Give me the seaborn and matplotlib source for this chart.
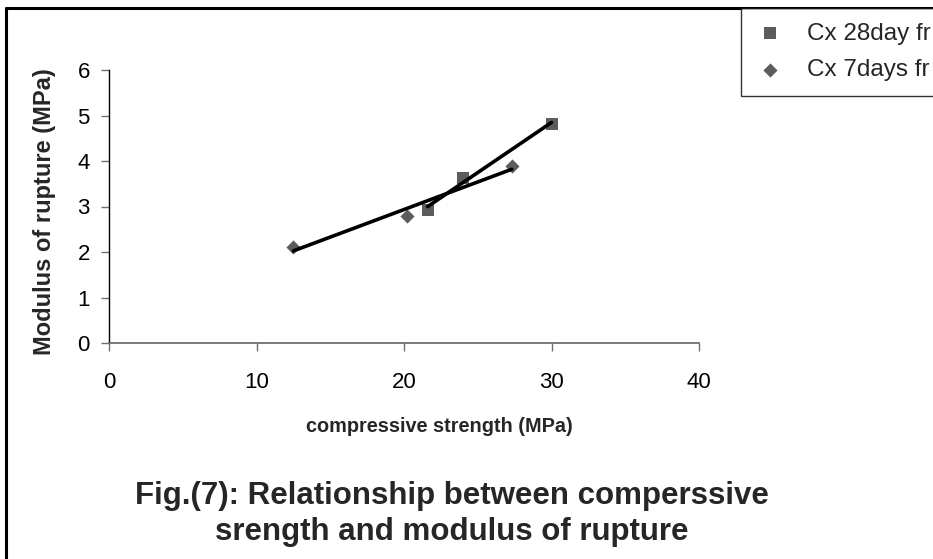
import matplotlib
matplotlib.use("Agg")
import matplotlib.pyplot as plt
from matplotlib.lines import Line2D
import seaborn as sns
import pandas as pd

# Data
cs_28day = [21.6, 24.0, 30.0]
mr_28day = [2.93, 3.62, 4.82]
cs_7days = [12.5, 20.2, 27.3]
mr_7days = [2.10, 2.80, 3.90]
label_28day = "Cx 28day fr"
label_7days = "Cx 7days fr"
x_ticks = [0, 10, 20, 30, 40]
y_ticks = [0, 1, 2, 3, 4, 5, 6]

df28 = pd.DataFrame({"cs": cs_28day, "mr": mr_28day})
df7 = pd.DataFrame({"cs": cs_7days, "mr": mr_7days})

sns.set_style("ticks")
plt.rcParams["font.family"] = ["Liberation Sans", "DejaVu Sans"]

W, H = 933, 559
fig = plt.figure(figsize=(W / 100, H / 100), dpi=100)
ax = fig.add_axes([109 / W, 1 - 343 / H, (699 - 109) / W, (343 - 70) / H])

sns.regplot(data=df28, x="cs", y="mr", ax=ax, ci=None, marker="s",
            label=label_28day,
            scatter_kws=dict(s=75, color="#333333", linewidths=0),
            line_kws=dict(color="black", lw=2.6))
sns.regplot(data=df7, x="cs", y="mr", ax=ax, ci=None, marker="D",
            label=label_7days,
            scatter_kws=dict(s=52, color="#333333", linewidths=0),
            line_kws=dict(color="black", lw=2.6))

ax.set_xlim(0, 40)
ax.set_ylim(0, 6)
ax.set_xticks(x_ticks)
ax.set_yticks(y_ticks)
ax.set_xlabel("")
ax.set_ylabel("")
for s in ["top", "right"]:
    ax.spines[s].set_visible(False)
ax.spines["left"].set_color("black")
ax.spines["left"].set_linewidth(1.0)
ax.spines["bottom"].set_color("#707070")
ax.spines["bottom"].set_linewidth(1.3)
ax.tick_params(axis="both", which="major", direction="out", length=5.8,
               width=1.0, color="#707070", labelsize=16, labelcolor="black",
               bottom=True, left=True)
ax.tick_params(axis="x", pad=15)
ax.tick_params(axis="y", pad=8)

fig.text(45 / W, 1 - 212 / H, "Modulus of rupture (MPa)", rotation=90,
         ha="center", va="center", fontsize=17, fontweight="bold")
fig.text(439 / W, 1 - 426 / H, "compressive strength (MPa)",
         ha="center", va="center", fontsize=14.3, fontweight="bold")
fig.text(452 / W, 1 - 514 / H,
         "Fig.(7): Relationship between comperssive\nsrength and modulus of rupture",
         ha="center", va="center", fontsize=22.5, fontweight="bold",
         linespacing=1.3)

handles, labels = ax.get_legend_handles_labels()
leg = fig.legend(handles, labels, loc="upper left",
                 bbox_to_anchor=(741 / W, 1 - 8 / H),
                 bbox_transform=fig.transFigure, frameon=True, fancybox=False,
                 edgecolor="black", fontsize=17.5, borderaxespad=0,
                 labelspacing=0.6, handletextpad=0.9, borderpad=0.6,
                 handlelength=1.2)
leg.get_frame().set_linewidth(1.0)

# outer chart frame (top and left visible)
fig.add_artist(Line2D([6 / W, 1.0], [1 - 8 / H, 1 - 8 / H],
                      transform=fig.transFigure, color="black", lw=2.2))
fig.add_artist(Line2D([6 / W, 6 / W], [1 - 8 / H, 0.0],
                      transform=fig.transFigure, color="black", lw=2.2))

fig.savefig("out.png", dpi=100)
